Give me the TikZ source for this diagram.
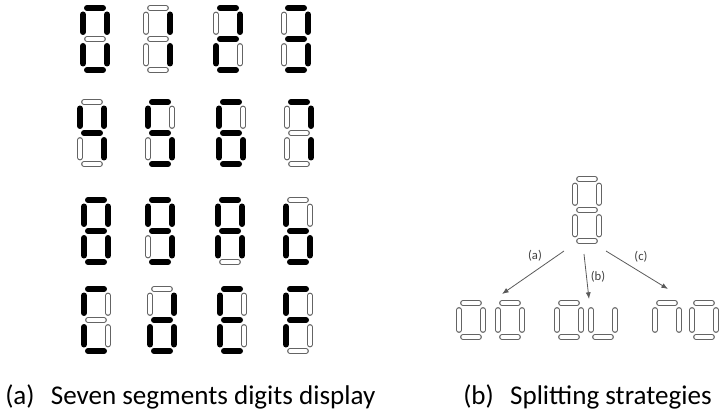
\documentclass[tikz,border=0pt]{standalone}
\usepackage{fontspec}
\setmainfont{Carlito}
\usepackage{xcolor}
\usepackage{tikz}
\usetikzlibrary{arrows.meta}

\definecolor{segline}{RGB}{100,100,100}
\definecolor{arrowline}{RGB}{90,90,90}

\tikzset{
  seg1/.style={draw=black,line width=4.5pt,line cap=round},
  seg0/.style={draw=segline,double=white,line width=0.95pt,double distance=2.5pt,line cap=round},
  segx/.style={draw=none},
  split/.style={draw=arrowline,line width=0.6pt,-{Latex[length=5pt,width=3.8pt]}},
  caption/.style={anchor=west,inner sep=0.75pt,font=\fontsize{20.3}{23}\selectfont},
  tag/.style={inner sep=0.75pt,font=\fontsize{9.5}{11}\selectfont,text=black!75}
}

% x, y, then segments a b c d e f g (1 = lit, 0 = dark)
\newcommand{\sevenseg}[9]{%
  \begin{scope}[shift={(#1,#2)}]
    \draw[seg#3] (-8,-31) -- (8,-31);
    \draw[seg#4] (12,-24.5) -- (12,-7);
    \draw[seg#5] (12,7) -- (12,24.5);
    \draw[seg#6] (-8,31) -- (8,31);
    \draw[seg#7] (-12,7) -- (-12,24.5);
    \draw[seg#8] (-12,-24.5) -- (-12,-7);
    \draw[seg#9] (-8,0) -- (8,0);
  \end{scope}}

% x, y, top, bottom
\newcommand{\halfseg}[4]{%
  \begin{scope}[shift={(#1,#2)}]
    \draw[seg#3] (-8,-17) -- (8,-17);
    \draw[seg0] (12,-10) -- (12,10);
    \draw[seg0] (-12,-10) -- (-12,10);
    \draw[seg#4] (-8,17) -- (8,17);
  \end{scope}}

\begin{document}
\begin{tikzpicture}[x=0.75pt,y=0.75pt,yscale=-1,xscale=1]

\useasboundingbox (0,0) rectangle (721,417);

\sevenseg{95}{39}{1}{1}{1}{1}{1}{1}{0}
\sevenseg{158}{39}{0}{1}{1}{0}{0}{0}{0}
\sevenseg{228}{39}{1}{1}{0}{1}{1}{0}{1}
\sevenseg{296}{39}{1}{1}{1}{1}{0}{0}{1}

\sevenseg{92}{133}{0}{1}{1}{0}{0}{1}{1}
\sevenseg{160}{133}{1}{0}{1}{1}{0}{1}{1}
\sevenseg{231}{133}{1}{0}{1}{1}{1}{1}{1}
\sevenseg{299}{133}{1}{1}{1}{0}{0}{0}{0}

\sevenseg{96}{231}{1}{1}{1}{1}{1}{1}{1}
\sevenseg{160}{231}{1}{1}{1}{1}{0}{1}{1}
\sevenseg{230}{231}{1}{1}{1}{0}{1}{1}{1}
\sevenseg{298}{231}{0}{0}{1}{1}{1}{1}{1}

\sevenseg{96}{320}{1}{0}{0}{1}{1}{1}{0}
\sevenseg{162}{320}{0}{1}{1}{1}{1}{0}{1}
\sevenseg{232}{320}{1}{0}{0}{1}{1}{1}{1}
\sevenseg{298}{320}{1}{0}{0}{0}{1}{1}{1}

\sevenseg{587}{210}{0}{0}{0}{0}{0}{0}{0}

\halfseg{471}{320}{0}{0}
\halfseg{510}{320}{0}{0}
\halfseg{569}{320}{0}{0}
\halfseg{603}{320}{x}{0}
\halfseg{667}{320}{0}{x}
\halfseg{704}{320}{0}{0}

\coordinate (fromA) at (564,251);
\coordinate (toA) at (502,294);
\coordinate (fromB) at (584,254);
\coordinate (toB) at (589,299);
\coordinate (fromC) at (606,251);
\coordinate (toC) at (668,289);

\draw[split] (fromA) -- (toA);
\draw[split] (fromB) -- (toB);
\draw[split] (fromC) -- (toC);

\draw (535,256) node (tagA) [tag] {(a)};
\draw (598,277) node (tagB) [tag] {(b)};
\draw (641,257) node (tagC) [tag] {(c)};

\draw (4,397) node (capA) [caption] {(a)\hspace{0.6em}Seven segments digits display};
\draw (462,397) node (capB) [caption] {(b)\hspace{0.6em}Splitting strategies};

\end{tikzpicture}
\end{document}
